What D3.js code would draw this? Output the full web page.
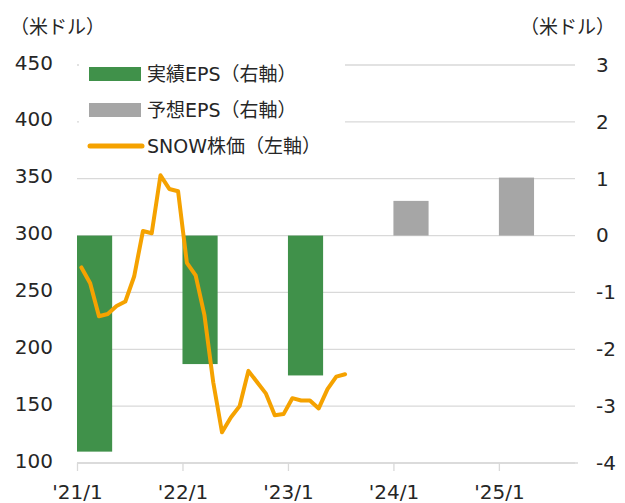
<!DOCTYPE html>
<html>
<head>
<meta charset="utf-8">
<script src="https://cdn.jsdelivr.net/npm/d3@7"></script>
<style>
  body { margin: 0; background: #fff; }
  svg text { font-family: "DejaVu Sans", "Noto Sans CJK JP", sans-serif; fill: #262626; }
</style>
</head>
<body>
<div id="chart"></div>
<script>
// SNOW share price, month-end, '21/1 .. '23/7 (left axis)
const prices = [272, 258, 229, 231, 238, 242, 264, 304, 302, 353, 341, 339,
                276, 265, 230, 171, 127, 140, 150, 181, 171, 161, 142, 143,
                157, 155, 155, 148, 165, 176, 178];
// EPS by fiscal year (right axis)
const actualYears = [0, 1, 2];
const actualEps = [-3.8, -2.26, -2.46];
const forecastYears = [3, 4];
const forecastEps = [0.61, 1.02];
const tickLabels = ["'21/1", "'22/1", "'23/1", "'24/1", "'25/1"];
const leftTicks = [100, 150, 200, 250, 300, 350, 400, 450];
const rightTicks = [-4, -3, -2, -1, 0, 1, 2, 3];
const legendItems = ["実績EPS（右軸）", "予想EPS（右軸）", "SNOW株価（左軸）"];

const W = 625, H = 503;
const green = "#40914a", gray = "#a6a6a6", orange = "#f5a200", grid = "#d9d9d9";

const svg = d3.select("#chart").append("svg")
  .attr("width", W).attr("height", H);

// month index scale: 0 = '21/1
const x = d3.scaleLinear().domain([0, 57]).range([77, 578]);
const yL = d3.scaleLinear().domain([100, 450]).range([463, 65]);
const yR = d3.scaleLinear().domain([-4, 3]).range([463, 65]);

// gridlines
svg.append("g")
  .selectAll("line")
  .data(rightTicks)
  .join("line")
    .attr("x1", x(0)).attr("x2", 575)
    .attr("y1", d => yR(d)).attr("y2", d => yR(d))
    .attr("stroke", grid).attr("stroke-width", 1.3);

// bars (4 months wide, starting at the year tick)
svg.append("g")
  .selectAll("rect")
  .data(actualYears.map((yr, i) => ({yr, v: actualEps[i]})))
  .join("rect")
    .attr("x", d => x(d.yr * 12))
    .attr("width", x(4) - x(0))
    .attr("y", d => yR(Math.max(0, d.v)))
    .attr("height", d => Math.abs(yR(d.v) - yR(0)))
    .attr("fill", green);

svg.append("g")
  .selectAll("rect")
  .data(forecastYears.map((yr, i) => ({yr, v: forecastEps[i]})))
  .join("rect")
    .attr("x", d => x(d.yr * 12))
    .attr("width", x(4) - x(0))
    .attr("y", d => yR(Math.max(0, d.v)))
    .attr("height", d => Math.abs(yR(d.v) - yR(0)))
    .attr("fill", gray);

// price line (points at the middle of each month)
const line = d3.line()
  .x((d, i) => x(i + 0.5))
  .y(d => yL(d));
svg.append("path")
  .datum(prices)
  .attr("d", line)
  .attr("fill", "none")
  .attr("stroke", orange)
  .attr("stroke-width", 4)
  .attr("stroke-linejoin", "round")
  .attr("stroke-linecap", "round");

// x axis
const xAxis = svg.append("g")
  .attr("transform", `translate(0, ${yR(-4)})`)
  .call(d3.axisBottom(x)
    .tickValues([0, 12, 24, 36, 48])
    .tickFormat((d, i) => tickLabels[i])
    .tickSize(8)
    .tickSizeOuter(0)
    .tickPadding(14));
xAxis.select(".domain").attr("stroke", grid).attr("stroke-width", 1.3)
  .attr("d", `M${x(0)},0H${x(57)}`);
xAxis.selectAll(".tick line").attr("stroke", grid).attr("stroke-width", 1.3);
xAxis.selectAll("text").style("font-size", "20px");

// left axis
const leftAxis = svg.append("g")
  .attr("transform", `translate(${x(0)}, 0)`)
  .call(d3.axisLeft(yL).tickValues(leftTicks).tickSize(0).tickPadding(24));
leftAxis.select(".domain").remove();
leftAxis.selectAll("text").style("font-size", "20px").attr("dy", "0.2em");

// right axis
const rightAxis = svg.append("g")
  .attr("transform", `translate(578, 0)`)
  .call(d3.axisRight(yR).tickValues(rightTicks).tickSize(0).tickPadding(18)
    .tickFormat(d => String(d)));
rightAxis.select(".domain").remove();
rightAxis.selectAll("text").style("font-size", "20px");

// unit labels
svg.append("text").attr("x", 10).attr("y", 34).style("font-size", "19px").text("（米ドル）");
svg.append("text").attr("x", 615).attr("y", 34).attr("text-anchor", "end")
  .style("font-size", "19px").text("（米ドル）");

// legend with white background
const legend = svg.append("g");
legend.append("rect")
  .attr("x", 79).attr("y", 50).attr("width", 266).attr("height", 112)
  .attr("fill", "#fff");
legend.append("rect").attr("x", 89).attr("y", 67).attr("width", 52).attr("height", 14).attr("fill", green);
legend.append("rect").attr("x", 89).attr("y", 103).attr("width", 52).attr("height", 14).attr("fill", gray);
legend.append("line").attr("x1", 90).attr("x2", 142).attr("y1", 146).attr("y2", 146)
  .attr("stroke", orange).attr("stroke-width", 5).attr("stroke-linecap", "round");
legend.selectAll("text.leg")
  .data(legendItems)
  .join("text")
    .attr("class", "leg")
    .attr("x", 147)
    .attr("y", (d, i) => 74 + i * 36)
    .attr("dy", "0.35em")
    .style("font-size", "19px")
    .text(d => d);
</script>
</body>
</html>
